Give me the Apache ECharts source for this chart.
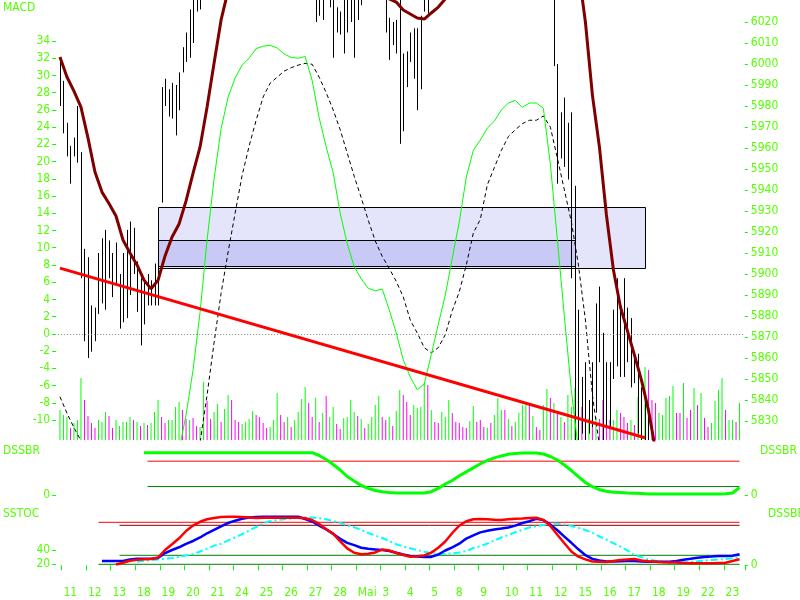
<!DOCTYPE html>
<html><head><meta charset="utf-8">
<script src="https://cdn.jsdelivr.net/npm/echarts@6/dist/echarts.min.js"></script>
<style>html,body{margin:0;padding:0;background:#fff}#c{width:800px;height:600px}</style>
</head><body><div id="c"></div>
<script>
// ---------------- DATA ----------------
const dayLabels = ['11','12','13','18','19','20','21','24','25','26','27','28','Mai','3','4','5','8','9','10','11','12','15','16','17','18','19','22','23'];
const barsPerDay = 7;
const slotCount = 196;   // one bar slot before "11", then 7 per day
const lineStep = 2;      // indicator lines sampled every 2nd bar slot

const highs = [
6003,5992,5972,5961,5965,5980,5958,5912,5908,5885,
5884,5910,5917,5921,5916,5910,5915,5900,5910,5921,
5925,5922,5906,5898,5896,5900,5897,5905,5905,5989,
5993,5988,5991,5990,5996,6008,6015,6026,6032,6040,
6045,6052,6058,6062,6060,6065,6068,6066,6070,6072,
6068,6065,6070,6075,6072,6068,6066,6070,6074,6071,
6068,6064,6060,6066,6070,6072,6069,6065,6062,6058,
6055,6052,6050,6045,6042,6040,6048,6046,6040,6027,
6025,6036,6038,6040,6036,6042,6046,6050,6052,6055,
6050,6048,6045,6040,6022,6020,6021,6032,6005,6006,
6015,6017,6017,6023,6035,6038,6045,6050,6056,6062,
6068,6072,6078,6085,6090,6096,6100,6106,6110,6116,
6120,6126,6130,6134,6138,6142,6146,6150,6154,6158,
6155,6150,6146,6142,6138,6132,6126,6120,6112,6104,
6096,6040,6000,5977,5984,5972,5977,5942,5883,5851,
5858,5840,5858,5886,5894,5872,5858,5858,5883,5898,
5883,5898,5884,5879,5862,5862,5846,5843,5837,5827,
5815,5810,5805,5800,5795,5788,5780,5775,5770,5760,
5752,5745,5738,5730,5722,5715,5710,5705,5700,5695,
5700,5705,5712,5718,5725];
const lows = [
5980,5967,5956,5943,5956,5953,5898,5868,5860,5863,
5868,5881,5886,5883,5898,5889,5895,5874,5877,5879,
5890,5900,5882,5866,5876,5885,5885,5885,5885,5934,
5980,5975,5974,5966,5978,5996,6001,6003,6010,6025,
6026,6036,6040,6044,6042,6046,6050,6048,6052,6055,
6050,6046,6052,6056,6054,6049,6045,6050,6056,6053,
6048,6044,6040,6046,6052,6054,6050,6046,6041,6038,
6034,6032,6031,6020,6023,6021,6032,6027,6003,6015,
6014,6005,6015,6020,6003,6021,6028,6034,6036,6038,
6035,6033,6031,6015,6002,6009,6005,5962,5968,5989,
6001,5993,5978,5988,6025,6024,6031,6034,6038,6044,
6050,6055,6060,6066,6072,6078,6082,6088,6092,6096,
6100,6106,6110,6114,6118,6122,6126,6128,6132,6136,
6134,6130,6126,6120,6116,6110,6104,6098,6090,6082,
6074,5999,5943,5955,5951,5945,5898,5815,5815,5824,
5818,5824,5827,5834,5858,5818,5827,5827,5850,5856,
5851,5851,5858,5846,5848,5824,5818,5815,5812,5808,
5798,5790,5785,5778,5770,5762,5755,5748,5740,5732,
5725,5718,5710,5700,5692,5685,5680,5675,5668,5660,
5665,5672,5680,5688,5695];
const volume = [
300,250,230,120,170,200,620,400,240,170,
120,200,180,280,240,120,200,140,180,180,
230,200,180,140,170,150,170,280,400,230,
170,200,200,330,380,300,210,200,220,140,
130,580,390,210,280,360,180,310,450,400,
200,180,160,180,210,290,250,230,170,120,
130,200,470,250,180,230,130,200,280,410,
530,370,230,420,180,270,440,230,330,160,
110,220,230,400,280,240,210,120,160,230,
350,440,230,200,230,140,290,500,450,380,
250,350,320,330,570,550,300,180,170,280,
230,400,270,180,170,130,120,190,340,180,
200,130,120,170,250,420,300,300,210,140,
180,270,350,350,370,240,130,100,350,510,
420,370,270,230,180,450,330,520,520,330,
250,220,200,230,210,400,250,200,200,300,
270,230,170,200,150,430,470,730,700,400,
370,270,250,420,440,540,270,270,570,220,
300,520,350,470,220,130,170,390,500,620,
300,200,200,180,370];
const volUp = [
1,1,1,0,1,1,1,0,0,0, 0,1,1,1,0,0,1,1,1,1, 1,0,1,0,1,0,1,1,1,0, 0,1,1,1,1,0,0,1,0,0,
1,1,0,0,1,1,0,1,1,0, 0,0,1,1,1,1,0,0,0,0, 1,1,1,0,0,1,0,1,1,1, 1,0,0,1,0,1,0,1,1,0,
0,1,1,1,1,0,1,0,1,1, 1,1,0,0,1,0,1,1,0,0, 0,1,1,1,1,0,1,0,0,1, 1,1,0,0,0,0,0,1,1,0,
0,0,1,0,1,1,1,0,1,0, 1,1,1,1,0,1,0,0,1,1, 0,1,0,1,0,1,1,1,1,0, 0,1,0,1,0,0,0,0,1,1,
0,0,0,1,0,1,1,1,0,0, 0,1,1,1,1,1,0,0,1,0, 0,1,0,1,0,0,1,1,1,1, 0,1,1,0,1];

// indicator lines (every 2nd slot, from slot 0)
const macd = [
-18,-21,-24,-27,-30,-31,-31,-30,-29,-28,
-27,-27,-27,-26,-24,-20,-16,-13.5,-9.4,-4.2,
2.5,10.9,18.0,23.8,27.5,29.7,31.2,32.0,33.1,33.4,
33.5,33.2,32.5,32.1,32.0,32.2,29.4,25.1,21.7,18.7,
14.0,10.5,7.8,6.4,5.3,5.0,5.2,2.8,0.1,-3.0,
-5.0,-6.5,-5.8,-2.4,1.1,4.5,8.8,13.0,18.2,21.3,
22.5,23.9,24.7,26.0,26.8,27.1,26.3,26.8,26.8,26.2,
19.7,10.9,2.0,-6.6,-13.5,-19,-25,-31,-36,-41,
-46,-50,-53,-56,-58,-60,-61,-62,-62,-62,
-61,-60,-58,-56,-54,-52,-50,-48];
const signal = [
-7.3,-9.2,-10.9,-12.4,-14,-16,-18,-20,-21.5,-22.5,
-23.5,-24.2,-24.8,-25.2,-25.2,-24.5,-23,-21,-18,-15,
-12.6,-7.1,-1.0,4.7,9.5,14.0,18.4,21.8,24.8,27.5,
29.1,29.8,30.5,30.9,31.2,31.4,31.3,29.8,28.0,26.0,
23.7,21.0,18.3,15.8,13.2,10.8,9.0,7.6,6.1,4.3,
1.6,0.1,-1.6,-2.2,-1.6,-0.1,2.7,4.9,8.0,11.7,
13.3,17.3,19.3,21.3,22.9,23.7,24.4,24.8,24.8,25.3,
24.0,20.4,16.7,13.0,8.0,1.6,-7.1,-13,-17,-22,
-27,-31,-35,-38,-41,-44,-46,-48,-50,-51,
-52,-53,-53,-53,-53,-53,-52,-52];
const movAvg = [
6003.3,5993.8,5987.1,5979.5,5964.8,5948.6,5939.0,5933.6,5927.6,5916.2,
5910.0,5904.3,5897.1,5892.9,5897.0,5908.6,5917.6,5923.8,5934.8,5948.0,
5960.5,5979.5,6000.5,6021,6035,6040,6045,6048,6050,6052,
6053,6054,6054,6053,6052,6050,6048,6046,6044,6042,
6040,6038,6036,6035,6034,6033,6032,6031,6029.5,6025.7,
6023.8,6021.9,6021.4,6024.3,6027.1,6031,6036,6042,6050,6058,
6066,6073,6080,6086,6091,6095,6098,6099,6098,6095,
6090,6082,6072,6058,6045,6020,5985.2,5960.5,5928.1,5901.9,
5884.3,5872.9,5861.4,5849.5,5835.2,5816.2,5800,5785,5770,5757,
5745,5735,5726,5718,5711,5705,5700,5695];
const trendline = [[0, 5902.8], [167, 5822.0]];          // [slot, price]
const zones = [                                          // price zones
  {from: 28, to: 167, low: 5902.7, high: 5931.9},
  {from: 28, to: 147, low: 5903.8, high: 5916.2}];

const dssbrStart = 24;
const dssbr = [
100,100,100,100,100,100,100,100,
100,100,100,100,100,100,100,100,100,100,
100,100,100,100,100,100,100,93.4,83.9,72.1,
59.1,43.7,33.1,22.5,15.8,10.6,7.6,5.9,4.7,4.7,
4.7,4.7,4.7,7.8,15.6,26,34.3,45.6,54.8,64.1,
73.8,81.6,87.7,92.4,96.2,98.1,99.3,99.3,99.3,96.9,
91,82.7,70.9,57.9,43.7,29.6,19.6,12.5,8.7,6.6,
5.7,4.7,4,3.3,2.4,2.4,2.4,2.4,2.4,2.4,
2.4,2.4,2.4,2.4,2.4,2.8,4.7,17.7];
const dssbrLevels = {start: 25, end: 194, high: 80, low: 20};

const sstocStart = 12;
const sstoc = [
24.7,24.7,24.7,24.7,
26.9,28,28,28,29,36.1,40.4,44.3,49.3,53.3,
58.3,64.3,69.3,74.3,79,82.3,85,86.9,87.6,88,
88,88,88,88,88,84.7,81.1,75.1,69.9,63.4,
56.4,50.6,47.4,43.6,42.1,41.3,40.4,39,36.6,33.9,
31.9,31.1,30.4,30.6,34,39.7,44.3,49.4,56.7,61.4,
65.6,67.9,69.6,71,72.6,75.3,79,81.6,84.9,83.1,
76.7,68.7,59.6,50.7,41.4,33,27.7,25.4,24.1,23.9,
24.4,24.7,24.7,24,23.7,23.7,23.7,23.7,24.7,26.6,
27.9,29.3,30.4,31.1,31.9,31.9,32.3,34.3];
const sstocLevels = {start: 11, end: 194, high: 80, low: 20};

const dssbStart = 16;
const dssb = [
1.6,5,
9,11.2,12,12.6,15.6,30.6,42,54,68.6,79.4,
87,92,94.6,96.6,97.2,97.2,96.6,95.6,94.6,95,
95.2,95.2,95.2,95.2,95.2,94.2,90.6,82.8,72,63.4,
47.8,33.8,25,22.2,23,25.8,31.4,29.8,24.6,20.6,
17.2,18.2,19.8,25.4,35,47.6,64.6,79.2,88.2,92,
92.6,92.2,91.2,90.6,92,93,93.6,94.6,95.2,90.8,
78.6,61,44,27.6,17.2,11.8,7.6,7,6.6,8.6,
10.6,11.6,12.4,9.8,8.2,7,6,5.6,5.4,4.8,
4.2,4,4,4,4.6,5,8.6,12.2];
const dssbSigStart = 22;
const dssbSignal = [
7.2,9.2,10.6,11.6,13,14.6,16.6,19.8,22.6,
27.6,33.2,39.4,43,49.8,55.6,62.2,69.4,76.6,84,
88.6,90.2,92.2,93.6,95,95.6,95.6,94.2,92,88.6,
84.6,80.2,76.2,70.6,64.6,59.6,54.6,48.6,42.2,37.6,
34,30.6,27.2,24.6,22.6,23.2,24,25.6,28.6,34.6,
38.2,43.6,49.6,55.6,60.6,66,71,75.6,78,80.6,
83,83,81.6,78.6,75,70.6,65,57.6,51.6,44.2,
37.2,29.6,20.6,16,12,9,7,6.2,5.6,5.6,
6.6,8,9.6,10.6,11.6,12.6,14,16];
const dssbLevels = {start: 17, end: 194, high: 80, low: 20};

const macdTicks = [-10,-8,-6,-4,-2,0,2,4,6,8,10,12,14,16,18,20,22,24,26,28,30,32,34];
const priceTicks = [5830,5840,5850,5860,5870,5880,5890,5900,5910,5920,5930,5940,5950,5960,5970,5980,5990,6000,6010,6020];
const dssbrTicks = [0];
const sstocTicks = [20, 40];
const dssbTicks = [0];

// ---------------- STYLE ----------------
const TXT = '#55ff00', TICK = '#00ff00';
const FONT = "'Liberation Sans Narrow','DejaVu Sans Condensed','Liberation Sans',sans-serif";
const zoneFill = ['#e4e4fa', '#c9c9f5'];

// ---------------- BUILD ----------------
const cats = ['10'];
for (let d = 0; d < dayLabels.length; d++)
  for (let j = 0; j < barsPerDay && cats.length < slotCount; j++) cats.push(dayLabels[d] + '#' + d + '.' + j);
const isDayStart = i => i >= 1 && (i - 1) % barsPerDay === 0;
const fromSlot = (arr, start) => arr.map((v, j) => [start + lineStep * j, v]);
const level = (lv, v) => [[lv.start, v], [lv.end, v]];

const L = 58.2, R = 55.2;
const xBase = (gi, extra) => Object.assign({gridIndex: gi, type: 'category', data: cats, boundaryGap: true, show: false}, extra || {});
const yAx = (gi, pos, min, max, ticks, extra) => Object.assign({
  gridIndex: gi, type: 'value', position: pos, min, max, offset: pos === 'left' ? 2 : 0,
  axisLine: {show: false}, splitLine: {show: false},
  axisTick: {show: true, customValues: ticks, length: pos === 'left' ? 4 : 3, lineStyle: {color: TICK}},
  axisLabel: {show: true, customValues: ticks, margin: 6, color: TXT, fontSize: 12, fontFamily: FONT, formatter: v => String(v)}
}, extra || {});

const lineS = (xi, yi, data, color, width, z, extra) => Object.assign({
  type: 'line', xAxisIndex: xi, yAxisIndex: yi, data, showSymbol: false, symbol: 'none',
  lineStyle: {color, width}, z, silent: true
}, extra || {});

const title = (text, left, top) => ({text, left, top, padding: 0, textStyle: {color: TXT, fontSize: 12, fontWeight: 'normal', fontFamily: FONT}});

const option = {
  animation: false,
  backgroundColor: '#ffffff',
  title: [title('MACD', 3, 2), title('DSSBR', 3, 445), title('DSSBR', 760, 445), title('SSTOC', 3, 508), title('DSSBR', 768, 508)],
  grid: [
    {left: L, right: R, top: 0, height: 440},
    {left: L, right: R, top: 447, height: 53},
    {left: L, right: R, top: 505, height: 67}
  ],
  xAxis: [
    xBase(0), xBase(1),
    xBase(2, {show: true, offset: 5, axisLine: {show: false},
      axisTick: {show: true, length: 5, interval: (i) => isDayStart(i), lineStyle: {color: TICK}},
      axisLabel: {show: true, interval: (i) => isDayStart(i), align: 'left', margin: 10, color: TXT, fontSize: 12, fontFamily: FONT,
        formatter: (v, i) => dayLabels[(i - 1) / barsPerDay]}})
  ],
  yAxis: [
    yAx(0, 'left', -12.32, 38.76, macdTicks),
    yAx(0, 'right', 5820.95, 6030.48, priceTicks),
    {gridIndex: 0, type: 'value', min: 0, max: 4400, show: false},
    yAx(1, 'left', -11.8, 113.5, dssbrTicks),
    yAx(1, 'right', -11.8, 113.5, dssbrTicks),
    yAx(2, 'left', 9.0, 104.71, sstocTicks),
    yAx(2, 'right', -13.4, 120.6, dssbTicks)
  ],
  series: [
    { type: 'custom', xAxisIndex: 0, yAxisIndex: 1, z: 1, silent: true, clip: true,
      encode: {x: [0, 1], y: [2, 3]},
      data: zones.map(zn => [zn.from, zn.to, zn.low, zn.high]),
      renderItem: (params, api) => {
        const p1 = api.coord([api.value(0), api.value(3)]);
        const p2 = api.coord([api.value(1), api.value(2)]);
        const x1 = Math.round(p1[0]) + 0.5, y1 = Math.round(p1[1]) + 0.5;
        const x2 = Math.round(p2[0]) + 0.5, y2 = Math.round(p2[1]) + 0.5;
        return {type: 'rect', shape: {x: x1, y: y1, width: x2 - x1, height: y2 - y1},
          style: {fill: zoneFill[params.dataIndex], stroke: '#000', lineWidth: 1}};
      }},
    { type: 'bar', xAxisIndex: 0, yAxisIndex: 2, barWidth: 1, z: 2, silent: true,
      data: volume.map((v, i) => ({value: v, itemStyle: {color: volUp[i] ? '#00ff00' : '#ff00ff'}})) },
    { type: 'custom', xAxisIndex: 0, yAxisIndex: 1, z: 3, silent: true, clip: true,
      encode: {x: 0, y: [1, 2]},
      data: highs.map((h, i) => [i, h, lows[i]]),
      renderItem: (params, api) => {
        const a = api.coord([api.value(0), api.value(1)]);
        const b = api.coord([api.value(0), api.value(2)]);
        const x = Math.round(a[0]) + 0.5;
        return {type: 'line', shape: {x1: x, y1: a[1], x2: x, y2: b[1]}, style: {stroke: '#000', lineWidth: 1}};
      }},
    lineS(0, 0, fromSlot(signal, 0), '#000000', 1, 4, {lineStyle: {color: '#000', width: 1, type: [4, 3]}}),
    lineS(0, 0, fromSlot(macd, 0), '#00ff00', 1, 4, {
      markLine: {silent: true, symbol: 'none', label: {show: false},
        lineStyle: {color: '#808080', type: [1, 2], width: 1}, data: [{yAxis: 0}]}}),
    lineS(0, 1, fromSlot(movAvg, 0), '#800000', 3, 5),
    lineS(0, 1, trendline, '#ff0000', 3, 6),
    // DSSBR panel
    lineS(1, 3, level(dssbrLevels, dssbrLevels.high), '#ff0000', 1, 2),
    lineS(1, 3, level(dssbrLevels, dssbrLevels.low), '#008000', 1, 2),
    lineS(1, 3, fromSlot(dssbr, dssbrStart), '#00ff00', 3, 3),
    // SSTOC panel
    lineS(2, 5, level(sstocLevels, sstocLevels.high), '#ff0000', 1, 2),
    lineS(2, 5, level(sstocLevels, sstocLevels.low), '#008000', 1, 2),
    lineS(2, 6, level(dssbLevels, dssbLevels.high), '#800000', 1, 2),
    lineS(2, 6, level(dssbLevels, dssbLevels.low), '#008000', 1, 2),
    lineS(2, 6, fromSlot(dssbSignal, dssbSigStart), '#00ffff', 2, 3, {lineStyle: {color: '#00ffff', width: 2, type: [7, 3, 2, 3]}}),
    lineS(2, 5, fromSlot(sstoc, sstocStart), '#0000ff', 2.5, 4),
    lineS(2, 6, fromSlot(dssb, dssbStart), '#ff0000', 2.5, 5)
  ]
};
const chart = echarts.init(document.getElementById('c'), null, {renderer: 'canvas'});
chart.setOption(option);
</script>
</body></html>
